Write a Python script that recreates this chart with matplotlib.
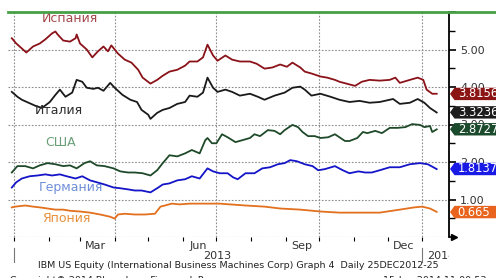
import datetime as dt

import numpy as np
import matplotlib
matplotlib.use("Agg")
import matplotlib.pyplot as plt
import matplotlib.dates as mdates
import matplotlib.transforms as mtransforms
from matplotlib.lines import Line2D
from matplotlib.patches import Polygon, Rectangle
from matplotlib.ticker import FixedLocator, FuncFormatter

# days counted from 1 Jan 2013, yields in %
base = dt.date(2013, 1, 1)

spain_days = [-2, 2, 5, 11, 17, 23, 28, 34, 37, 39, 44, 50, 55, 56, 59, 65, 70, 75, 80, 84,
              87, 93, 99, 105, 111, 115, 122, 128, 133, 139, 146, 153, 157, 164, 169, 173, 178, 182, 189, 195,
              202, 211, 217, 224, 231, 238, 244, 249, 256, 260, 266, 274, 280, 287, 291, 305, 311, 318, 327, 336,
              341, 345, 354, 361, 366, 369, 374, 378]
spain = [5.30, 5.16, 5.08, 4.92, 5.08, 5.16, 5.27, 5.43, 5.48, 5.40, 5.24, 5.21, 5.30, 5.40, 5.16, 5.00, 4.79, 4.95, 5.08, 4.95,
         5.11, 4.89, 4.73, 4.65, 4.46, 4.25, 4.09, 4.19, 4.30, 4.41, 4.46, 4.57, 4.68, 4.68, 4.79, 5.13, 4.84, 4.70, 4.84, 4.73,
         4.68, 4.68, 4.62, 4.49, 4.52, 4.60, 4.54, 4.65, 4.52, 4.41, 4.36, 4.28, 4.25, 4.19, 4.14, 4.03, 4.14, 4.19, 4.17, 4.19,
         4.25, 4.11, 4.19, 4.25, 4.19, 3.93, 3.82, 3.82]

italy_days = [-2, 3, 7, 13, 19, 25, 32, 37, 41, 46, 52, 56, 61, 65, 71, 75, 80, 86, 90, 97,
              104, 110, 114, 120, 122, 128, 133, 139, 146, 153, 157, 164, 169, 173, 178, 182, 189, 195, 202, 211,
              218, 224, 233, 242, 249, 256, 260, 266, 274, 283, 291, 300, 309, 318, 327, 339, 345, 354, 361, 367,
              372, 378]
italy = [3.87, 3.74, 3.66, 3.58, 3.50, 3.44, 3.60, 3.79, 3.93, 3.74, 3.85, 4.19, 4.14, 3.98, 3.95, 3.98, 3.90, 4.11, 3.98, 3.79,
         3.66, 3.60, 3.39, 3.26, 3.15, 3.31, 3.39, 3.44, 3.55, 3.60, 3.77, 3.74, 3.85, 4.25, 3.98, 3.87, 3.93, 3.87, 3.77, 3.82,
         3.74, 3.66, 3.77, 3.85, 3.98, 4.01, 3.93, 3.77, 3.82, 3.74, 3.66, 3.60, 3.63, 3.58, 3.60, 3.68, 3.55, 3.58, 3.68, 3.58,
         3.44, 3.32]

usa_days = [-2, 3, 10, 17, 23, 30, 37, 44, 50, 56, 63, 68, 74, 81, 89, 95, 102, 108, 115, 122,
            128, 133, 139, 146, 153, 159, 166, 171, 173, 177, 181, 186, 191, 198, 204, 211, 215, 220, 227, 233,
            238, 242, 249, 254, 258, 263, 269, 274, 281, 287, 291, 296, 300, 307, 312, 316, 323, 329, 336, 343,
            350, 356, 363, 367, 372, 374, 378]
usa = [1.72, 1.89, 1.89, 1.83, 1.91, 1.97, 1.94, 1.89, 1.91, 1.83, 1.97, 2.02, 1.91, 1.89, 1.83, 1.75, 1.72, 1.72, 1.70, 1.64,
       1.78, 1.97, 2.18, 2.15, 2.23, 2.32, 2.23, 2.58, 2.64, 2.50, 2.50, 2.74, 2.66, 2.53, 2.58, 2.64, 2.74, 2.69, 2.85, 2.83,
       2.74, 2.85, 2.99, 2.93, 2.80, 2.69, 2.69, 2.64, 2.66, 2.74, 2.66, 2.56, 2.56, 2.64, 2.80, 2.77, 2.83, 2.77, 2.91, 2.91,
       2.93, 3.01, 2.99, 2.93, 2.96, 2.80, 2.87]

germany_days = [-2, 2, 7, 14, 21, 28, 34, 41, 47, 55, 61, 68, 74, 81, 89, 95, 102, 108, 114, 122,
                128, 133, 139, 146, 153, 159, 166, 173, 178, 184, 191, 196, 200, 207, 215, 222, 229, 236, 242, 247,
                253, 260, 267, 272, 278, 287, 294, 300, 308, 314, 320, 327, 336, 345, 354, 363, 370, 375, 378]
germany = [1.32, 1.46, 1.56, 1.62, 1.64, 1.67, 1.64, 1.67, 1.62, 1.56, 1.62, 1.51, 1.46, 1.40, 1.32, 1.30, 1.27, 1.24, 1.24, 1.19,
           1.30, 1.40, 1.43, 1.51, 1.54, 1.62, 1.56, 1.83, 1.75, 1.70, 1.70, 1.59, 1.54, 1.70, 1.70, 1.83, 1.86, 1.94, 1.97, 2.05,
           2.02, 1.94, 1.89, 1.78, 1.81, 1.89, 1.78, 1.70, 1.75, 1.72, 1.72, 1.78, 1.86, 1.86, 1.94, 1.97, 1.94, 1.86, 1.81]

japan_days = [-2, 1, 10, 17, 23, 30, 37, 44, 50, 59, 68, 77, 86, 90, 93, 99, 108, 117, 126, 131,
              135, 141, 148, 157, 166, 175, 184, 193, 207, 224, 238, 256, 274, 291, 309, 327, 345, 358, 365, 372,
              378]
japan = [0.79, 0.81, 0.84, 0.81, 0.79, 0.76, 0.73, 0.73, 0.70, 0.68, 0.65, 0.60, 0.54, 0.49, 0.60, 0.62, 0.60, 0.60, 0.62, 0.81,
         0.84, 0.89, 0.87, 0.89, 0.89, 0.89, 0.89, 0.87, 0.84, 0.81, 0.76, 0.73, 0.68, 0.65, 0.65, 0.65, 0.73, 0.79, 0.81, 0.76,
         0.67]

names = ["Испания", "Италия", "США", "Германия", "Япония"]
last_values = [3.8156, 3.3236, 2.8727, 1.8137, 0.665]

line_colors = ["#8a1218", "#1a1a1a", "#1f4a2a", "#1414c8", "#e2701e"]
label_colors = ["#a5484c", "#2e2e2e", "#6a9f78", "#6e8fd8", "#e8903c"]
tag_colors = ["#8b1515", "#1c1c1c", "#1c4a2c", "#1a1ae6", "#e8641e"]
label_pos = [(0.077, 0.973), (0.061, 0.564), (0.084, 0.422), (0.070, 0.218), (0.077, 0.080)]

series = [(spain_days, spain), (italy_days, italy), (usa_days, usa),
          (germany_days, germany), (japan_days, japan)]

W, H = 496, 278
fig = plt.figure(figsize=(W / 100, H / 100), dpi=100)
ax = fig.add_axes([8 / W, 1 - 237 / H, 441 / W, 225 / H])

t0 = mdates.date2num(base)
for (days, vals), col in zip(series, line_colors):
    ax.plot(t0 + np.array(days), vals, color=col, lw=1.3, zorder=3)

for (xf, yf), name, col in zip(label_pos, names, label_colors):
    ax.text(xf, yf, name, transform=ax.transAxes, color=col, fontsize=9,
            va="center", ha="left", zorder=4)

ax.set_xlim(t0 - 5.4, t0 + 389)
ax.set_ylim(0, 6)

# grid
grid_kw = dict(color="#8c8c8c", lw=0.8, ls=(0, (1.5, 1.5)), zorder=1)
for v in range(0, 6):
    ax.axhline(v, **grid_kw)
for q in [dt.date(2013, 1, 1), dt.date(2013, 4, 1), dt.date(2013, 7, 1),
          dt.date(2013, 10, 1), dt.date(2014, 1, 1)]:
    ax.axvline(mdates.date2num(q), **grid_kw)

# x axis
ax.xaxis.set_major_locator(mdates.MonthLocator(bymonth=[3, 6, 9, 12], bymonthday=15))
ax.xaxis.set_major_formatter(mdates.DateFormatter("%b"))
ax.xaxis.set_minor_locator(mdates.MonthLocator())
ax.tick_params(axis="x", which="major", length=0, labelsize=8, pad=3, labelcolor="#333333")
ax.tick_params(axis="x", which="minor", length=3, width=0.8, color="black", direction="out")

# y axis on the right
ax.yaxis.tick_right()
ax.yaxis.set_major_locator(FixedLocator([0, 1, 2, 3, 4, 5, 6]))
ax.yaxis.set_minor_locator(FixedLocator(np.arange(0.5, 6, 1.0)))
ax.yaxis.set_major_formatter(FuncFormatter(lambda v, p: "%.2f" % v if 0 < v < 6 else ""))
ax.tick_params(axis="y", which="major", length=5, width=1.2, labelsize=8, pad=3,
               labelcolor="#333333", color="black")
ax.tick_params(axis="y", which="minor", length=4, width=1, color="black")

for s in ["left", "top", "bottom"]:
    ax.spines[s].set_visible(False)
ax.spines["right"].set_linewidth(1.3)

ax.plot([1.012], [0], marker=">", ms=4.5, color="black", transform=ax.transAxes, clip_on=False)

# year labels and separators
blend_x = mtransforms.blended_transform_factory(ax.transData, ax.transAxes)
for yr in [dt.date(2013, 1, 1), dt.date(2014, 1, 1)]:
    ax.plot([mdates.date2num(yr)] * 2, [-0.05, -0.11], color="#777777", lw=0.8,
            transform=blend_x, clip_on=False)
ax.text(mdates.date2num(dt.date(2013, 7, 2)), -0.085, "2013", transform=blend_x,
        ha="center", va="center", fontsize=8, color="#333333")
t14 = ax.text(mdates.date2num(dt.date(2014, 1, 5)), -0.085, "2014", transform=blend_x,
              ha="left", va="center", fontsize=8, color="#333333")
t14.set_clip_on(True)
t14.set_clip_path(Rectangle((0, 0), 449 / W, 1, transform=fig.transFigure))

# last value tags
blend_y = mtransforms.blended_transform_factory(ax.transAxes, ax.transData)
for v, col in zip(last_values, tag_colors):
    tr = fig.dpi_scale_trans + mtransforms.ScaledTranslation(1, v, blend_y)
    tag = Polygon([(0.01, 0), (0.055, 0.062), (0.6, 0.062), (0.6, -0.062), (0.055, -0.062)],
                  closed=True, transform=tr, facecolor=col, edgecolor="none",
                  clip_on=False, zorder=5)
    ax.add_patch(tag)
    ax.annotate(str(v), xy=(1, v), xycoords=blend_y, xytext=(6.3, 0),
                textcoords="offset points", ha="left", va="center", color="white",
                fontsize=8.3, zorder=6, annotation_clip=False)

# green top rule
fig.add_artist(Line2D([8 / W, 1], [1 - 12 / H] * 2, color="#46a046", lw=2,
                      transform=fig.transFigure))

# footer
fig.text(38 / W, 1 - 265 / H,
         "IBM US Equity (International Business Machines Corp) Graph 4  Daily 25DEC2012-25",
         fontsize=6.8, va="center", ha="left", color="#222222")
fig.text(10 / W, 1 - 276 / H, "Copyright\u00a9 2014 Bloomberg Finance L.P.",
         fontsize=6.8, va="top", ha="left", color="#222222")
fig.text(383 / W, 1 - 276 / H, "15-Jan-2014 11:00:53",
         fontsize=6.8, va="top", ha="left", color="#222222")

fig.savefig("out.png", dpi=100)
